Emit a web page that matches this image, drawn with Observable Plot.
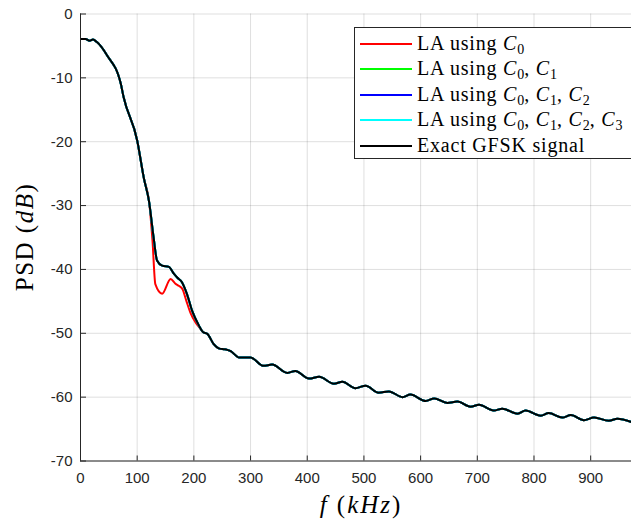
<!DOCTYPE html>
<html>
<head>
<meta charset="utf-8">
<script src="https://cdn.jsdelivr.net/npm/d3@7"></script>
<script src="https://cdn.jsdelivr.net/npm/@observablehq/plot@0.6"></script>
<style>
  body { margin: 0; background: white; }
  #wrap { position: relative; width: 631px; height: 523px; overflow: hidden; background: white; }
  .serif { font-family: "Liberation Serif", serif; color: #000; white-space: nowrap; position: absolute; }
  .legend { position: absolute; left: 354px; top: 27px; width: 290px; height: 132px; border: 1px solid #262626; background: white; box-sizing: border-box; }
  .row { position: absolute; left: 0; height: 26px; width: 100%; }
  .sw { position: absolute; left: 5px; width: 52px; height: 2px; }
  .lt { position: absolute; left: 62px; font-family: "Liberation Serif", serif; font-size: 20px; letter-spacing: 0.8px; line-height: 20px; white-space: nowrap; }
  sub { font-size: 70%; vertical-align: baseline; position: relative; top: 0.3em; letter-spacing: 0; }
</style>
</head>
<body>
<div id="wrap"></div>
<script>
// ---- data ----
const xTicks = [0, 100, 200, 300, 400, 500, 600, 700, 800, 900];
const yTicks = [0, -10, -20, -30, -40, -50, -60, -70];

const exactFreq = [0, 9, 16, 22, 29, 47, 71, 76, 100, 112, 121, 129, 135, 144, 156, 165, 171, 179, 188, 197, 209, 216, 224, 235, 245, 255, 265, 280, 300, 323, 338, 365, 379, 403, 421, 447, 462, 485, 503, 526, 544, 568, 582, 609, 624, 647, 665, 688, 703, 729, 744, 771, 785, 812, 826, 850, 865, 888, 906, 932, 947, 972];
const exactPsd = [-3.9, -3.9, -4.2, -4.0, -4.4, -6.5, -10.9, -13.0, -19.8, -25.8, -29.4, -35.0, -38.6, -39.4, -39.6, -40.7, -41.3, -42.0, -43.9, -46.5, -48.8, -49.8, -50.1, -51.7, -52.4, -52.5, -52.8, -53.8, -53.8, -55.1, -54.9, -56.2, -55.9, -57.1, -56.8, -57.9, -57.6, -58.6, -58.2, -59.3, -59.1, -60.0, -59.6, -60.6, -60.2, -60.9, -60.7, -61.5, -61.2, -62.1, -61.8, -62.6, -62.1, -62.9, -62.5, -63.2, -62.8, -63.6, -63.2, -63.7, -63.4, -63.9];

const redFreq = [0, 9, 16, 22, 29, 47, 71, 76, 100, 112, 121, 127, 132, 144, 159, 167, 174, 180, 187, 194, 203, 209, 216, 224, 235, 245, 255, 265, 280, 300, 323, 338, 365, 379, 403, 421, 447, 462, 485, 503, 526, 544, 568, 582, 609, 624, 647, 665, 688, 703, 729, 744, 771, 785, 812, 826, 850, 865, 888, 906, 932, 947, 972];
const redPsd = [-3.9, -3.9, -4.2, -4.0, -4.4, -6.5, -10.9, -13.0, -19.8, -25.8, -29.4, -35.5, -42.3, -43.8, -41.5, -42.2, -42.6, -43.1, -45.0, -46.8, -48.3, -49.0, -49.8, -50.1, -51.7, -52.4, -52.5, -52.8, -53.8, -53.8, -55.1, -54.9, -56.2, -55.9, -57.1, -56.8, -57.9, -57.6, -58.6, -58.2, -59.3, -59.1, -60.0, -59.6, -60.6, -60.2, -60.9, -60.7, -61.5, -61.2, -62.1, -61.8, -62.6, -62.1, -62.9, -62.5, -63.2, -62.8, -63.6, -63.2, -63.7, -63.4, -63.9];

// the higher-order approximations coincide with the exact curve in the picture
const greenPsd = exactPsd;
const bluePsd = exactPsd;
const cyanPsd = exactPsd;

const seriesNames = ["LA using C0", "LA using C0,C1", "LA using C0,C1,C2", "LA using C0,C1,C2,C3", "Exact GFSK signal"];
const seriesColors = ["#ff0000", "#00ff00", "#0000ff", "#00ffff", "#000000"];
const legendHtml = [
  'LA using <i>C</i><sub>0</sub>',
  'LA using <i>C</i><sub>0</sub>, <i>C</i><sub>1</sub>',
  'LA using <i>C</i><sub>0</sub>, <i>C</i><sub>1</sub>, <i>C</i><sub>2</sub>',
  'LA using <i>C</i><sub>0</sub>, <i>C</i><sub>1</sub>, <i>C</i><sub>2</sub>, <i>C</i><sub>3</sub>',
  'Exact GFSK signal'
];

// ---- chart ----
const W = 631, H = 523, mL = 80, mR = 0, mT = 13.5, mB = 62.5;
const innerW = W - mL - mR, innerH = H - mT - mB;
const axisColor = "#262626";

const lineOpts = (ys, color) => ({x: (d, i) => d, y: ys, stroke: color, strokeWidth: 2, curve: "monotone-x", clip: true});

const chart = Plot.plot({
  width: W, height: H,
  marginLeft: mL, marginRight: mR, marginTop: mT, marginBottom: mB,
  x: {domain: [0, 972]},
  y: {domain: [-70, 0]},
  style: {fontFamily: "Liberation Sans, Arial, sans-serif", fontSize: "15px", color: axisColor, background: "white", overflow: "visible"},
  marks: [
    Plot.gridX(xTicks, {stroke: axisColor, strokeOpacity: 0.15}),
    Plot.gridY(yTicks, {stroke: axisColor, strokeOpacity: 0.15}),
    Plot.line(redFreq, {x: redFreq, y: redPsd, stroke: seriesColors[0], strokeWidth: 2, curve: "monotone-x", clip: true}),
    Plot.line(exactFreq, {x: exactFreq, y: greenPsd, stroke: seriesColors[1], strokeWidth: 2, curve: "monotone-x", clip: true}),
    Plot.line(exactFreq, {x: exactFreq, y: bluePsd, stroke: seriesColors[2], strokeWidth: 2, curve: "monotone-x", clip: true}),
    Plot.line(exactFreq, {x: exactFreq, y: cyanPsd, stroke: seriesColors[3], strokeWidth: 2, curve: "monotone-x", clip: true}),
    Plot.line(exactFreq, {x: exactFreq, y: exactPsd, stroke: seriesColors[4], strokeWidth: 2, curve: "monotone-x", clip: true}),
    // inward tick marks
    Plot.gridX(xTicks, {stroke: axisColor, strokeOpacity: 1, insetTop: innerH - 5}),
    Plot.gridY(yTicks, {stroke: axisColor, strokeOpacity: 1, insetRight: innerW - 6}),
    // axis lines
    Plot.ruleX([0], {stroke: axisColor}),
    Plot.ruleY([-70], {stroke: axisColor}),
    Plot.axisX(xTicks, {tickSize: 0, tickPadding: 11, label: null, tickFormat: d => String(d), fill: axisColor}),
    Plot.axisY(yTicks, {tickSize: 0, tickPadding: 8, label: null, tickFormat: d => String(d), fill: axisColor})
  ]
});

const wrap = document.getElementById("wrap");
chart.style.position = "absolute";
chart.style.left = "0px";
chart.style.top = "0px";
wrap.appendChild(chart);

// axis labels
const xl = document.createElement("div");
xl.className = "serif";
xl.style.cssText += "left:361px;top:505px;transform:translate(-50%,-50%);font-size:25px;letter-spacing:2px;";
xl.innerHTML = '<i>f</i> (<i>kHz</i>)';
wrap.appendChild(xl);

const yl = document.createElement("div");
yl.className = "serif";
yl.style.cssText += "left:25px;top:237px;transform:translate(-50%,-50%) rotate(-90deg);font-size:25px;letter-spacing:1.5px;";
yl.innerHTML = 'PSD (<i>dB</i>)';
wrap.appendChild(yl);

// legend
const lg = document.createElement("div");
lg.className = "legend";
const rowTops = [15.7, 40.7, 67, 92.3, 118];
seriesNames.forEach((name, i) => {
  const sw = document.createElement("div");
  sw.className = "sw";
  sw.style.top = (rowTops[i] - 1) + "px";
  sw.style.background = seriesColors[i];
  lg.appendChild(sw);
  const t = document.createElement("div");
  t.className = "lt";
  t.style.top = (rowTops[i] - 11) + "px";
  t.innerHTML = legendHtml[i];
  t.title = name;
  lg.appendChild(t);
});
wrap.appendChild(lg);
</script>
</body>
</html>
